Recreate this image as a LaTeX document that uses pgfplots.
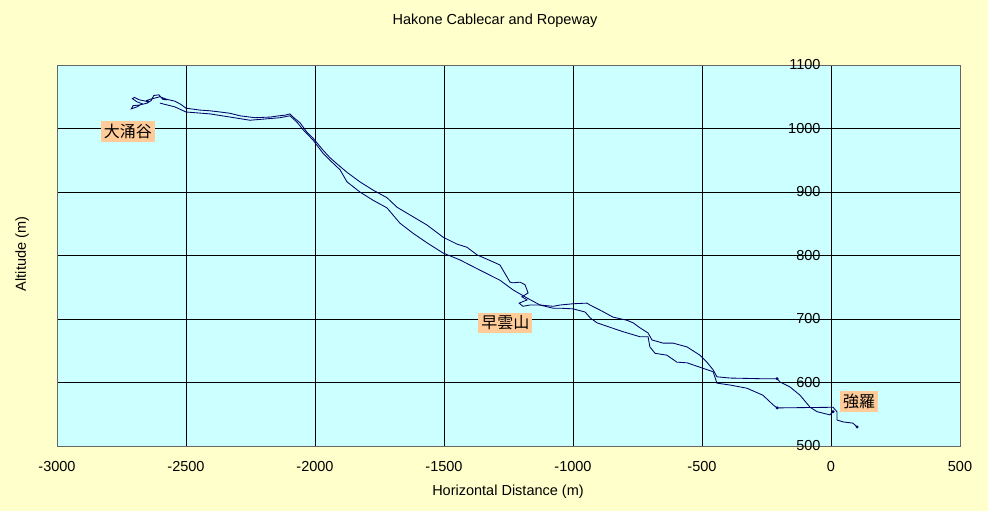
\documentclass[border=0pt]{standalone}
\usepackage{pgfplots}
\pgfplotsset{compat=1.18}
\usepackage{fontspec}
\setmainfont{Liberation Sans}
\newfontfamily\cjk{Noto Sans CJK JP}
\definecolor{bgyellow}{HTML}{FFFFCC}
\definecolor{plotcyan}{HTML}{CCFFFF}
\definecolor{peach}{HTML}{FFCC99}
\definecolor{navy}{HTML}{000066}
\begin{document}
\begin{tikzpicture}
\path[use as bounding box] (0,0) rectangle (988pt,511pt);
\fill[bgyellow] (0,0) rectangle (988pt,511pt);
\begin{axis}[
  at={(57pt,65pt)}, anchor=south west,
  scale only axis, width=903pt, height=381pt,
  xmin=-3000, xmax=500, ymin=500, ymax=1100,
  xtick={-3000,-2500,-2000,-1500,-1000,-500,0,500},
  ytick={500,600,700,800,900,1000,1100},
  scaled ticks=false,
  grid=major, major grid style={black, line width=0.85pt},
  axis background/.style={fill=plotcyan},
  axis line style={gray!80!black, line width=0.8pt},
  xtick style={draw=none},
  ytick pos=left, tick align=inside, major tick length=4pt,
  ytick style={black, line width=0.8pt, xshift=774pt},
  /pgf/number format/assume math mode=true,
  /pgf/number format/1000 sep={},
  ticklabel style={font=\fontsize{14.5}{16}\selectfont},
  xticklabel style={yshift=-12pt},
  yticklabel style={xshift=767pt},
]
\addplot[navy, line width=0.85pt] coordinates {
(-2575,1045) (-2590,1046) (-2605,1053) (-2625,1052) (-2635,1044) (-2650,1040)
(-2680,1037) (-2705,1036) (-2712,1031) (-2690,1034) (-2670,1039) (-2690,1042)
(-2708,1047) (-2700,1049) (-2680,1045) (-2655,1043) (-2640,1046) (-2620,1048)
(-2601,1050) (-2575,1046) (-2543,1043) (-2520,1038) (-2500,1032) (-2446,1029)
(-2410,1028) (-2368,1026) (-2330,1024) (-2291,1020) (-2233,1017) (-2174,1018)
(-2140,1020) (-2116,1021) (-2097,1023) (-2085,1018) (-2058,1009) (-2031,994)
(-2008,985) (-1969,966) (-1942,954) (-1911,943) (-1876,931) (-1826,916)
(-1775,903) (-1721,891) (-1682,876) (-1620,861) (-1566,848) (-1504,829)
(-1450,818) (-1411,813) (-1372,801) (-1310,790) (-1283,785) (-1244,758)
(-1233,757) (-1205,758) (-1186,754) (-1174,741) (-1198,735) (-1178,730)
(-1209,725) (-1194,720) (-1167,722) (-1128,722) (-1077,720) (-1050,722)
(-1000,724) (-946,725) (-934,722) (-895,714) (-845,703) (-791,698)
(-767,694) (-740,686) (-709,678) (-694,667) (-651,662) (-612,662)
(-558,656) (-508,643) (-481,632) (-457,620) (-442,609) (-391,607)
(-275,606) (-209,606) (-198,601) (-159,593) (-120,580) (-81,561)
(-54,554) (-4,549) (8,554)
};
\addplot[navy, line width=0.85pt] coordinates {
(-2601,1040) (-2543,1034) (-2500,1026) (-2407,1023) (-2329,1018) (-2252,1013)
(-2194,1015) (-2136,1017) (-2097,1020) (-2070,1010) (-2046,998) (-2008,982)
(-1969,961) (-1942,950) (-1903,935) (-1876,916) (-1826,900) (-1775,887)
(-1721,875) (-1671,851) (-1620,835) (-1566,820) (-1504,804) (-1438,793)
(-1361,777) (-1283,761) (-1233,746) (-1178,733) (-1155,728) (-1128,722)
(-1077,717) (-1050,717) (-1000,716) (-953,711) (-934,702) (-907,694)
(-857,687) (-806,680) (-740,672) (-709,672) (-702,656) (-682,646)
(-636,643) (-597,632) (-558,631) (-508,624) (-457,617) (-442,599)
(-391,596) (-326,591) (-264,580) (-225,565) (-209,560) (8,561)
(23,554) (23,541) (46,538) (85,536) (101,530)
};
\addplot[navy, only marks, mark=*, mark size=1.3pt] coordinates {
(-209,606) (-209,560) (101,530) (8,554) (-2650,1043)
};
\node[fill=peach, inner sep=3pt, font=\cjk\fontsize{16}{18}\selectfont] at (axis cs:-2725,995) {大涌谷};
\node[fill=peach, inner sep=3pt, font=\cjk\fontsize{16}{18}\selectfont] at (axis cs:-1262,694) {早雲山};
\node[fill=peach, inner sep=3pt, font=\cjk\fontsize{16}{18}\selectfont] at (axis cs:109,570) {強羅};
\end{axis}
\node[font=\fontsize{14.5}{16}\selectfont] at (495pt,490pt) {Hakone Cablecar and Ropeway};
\node[font=\fontsize{14.5}{16}\selectfont] at (508pt,19pt) {Horizontal Distance (m)};
\node[font=\fontsize{14.5}{16}\selectfont, rotate=90] at (22pt,257pt) {Altitude (m)};
\end{tikzpicture}
\end{document}
